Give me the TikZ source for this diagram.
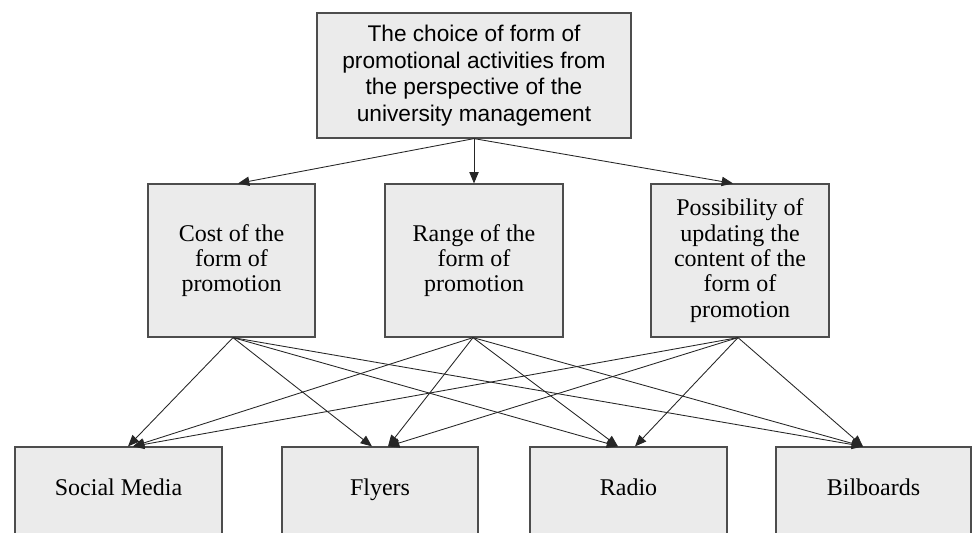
\documentclass[tikz,border=0pt]{standalone}
\usepackage{fontspec}
\setmainfont{Liberation Serif}
\newfontfamily\arialfont{Liberation Sans}
\usetikzlibrary{arrows.meta,calc}
\definecolor{boxfill}{HTML}{EBEBEB}
\definecolor{boxline}{HTML}{4D4D4D}
\definecolor{connline}{HTML}{262626}
\begin{document}
\begin{tikzpicture}[x=0.75pt,y=-0.75pt,
  box/.style={draw=boxline, fill=boxfill, line width=0.9pt, inner sep=0pt, align=center},
  topbox/.style={box, minimum width=235.5pt, minimum height=93.75pt, font=\arialfont\fontsize{17}{20}\selectfont},
  midbox/.style={box, minimum height=114.75pt, font=\fontsize{18}{19}\selectfont},
  botbox/.style={box, minimum height=84.75pt},
  bottext/.style={anchor=base, inner sep=0pt, font=\fontsize{18}{19}\selectfont},
  conn/.style={draw=connline, line width=0.65pt, -{Triangle[length=8.5pt,width=7pt]}}]
\useasboundingbox (0,0) rectangle (973,532);
\clip (0,0) rectangle (973,532);
% top
\node[topbox] (top) at (474,75.5) {The choice of form of\\promotional activities from\\the perspective of the\\university management};
% middle
\node[midbox, minimum width=125.25pt] (cost) at (231.5,260.5) {Cost of the\\form of\\promotion};
\node[midbox, minimum width=133.5pt] (range) at (474,260.5) {Range of the\\form of\\promotion};
\node[midbox, minimum width=133.5pt] (poss) at (740,260.5) {Possibility of\\updating the\\content of the\\form of\\promotion};
% bottom
\node[botbox, minimum width=155.25pt] (sm) at (118.5,503.5) {};
\node[botbox, minimum width=147pt] (fl) at (380,503.5) {};
\node[botbox, minimum width=147.75pt] (ra) at (628.5,503.5) {};
\node[botbox, minimum width=146.25pt] (bi) at (873.5,503.5) {};
\node[bottext] (smt) at (118.5,495) {Social Media};
\node[bottext] (flt) at (380,495) {Flyers};
\node[bottext] (rat) at (628.5,495) {Radio};
\node[bottext] (bit) at (873.5,495) {Bilboards};
% top to middle
\draw[conn] (top.south) -- ($(cost.north)+(6.5,0)$);
\draw[conn] (top.south) -- (range.north);
\draw[conn] (top.south) -- ($(poss.north)+(-7,0)$);
% middle to bottom
\coordinate (cs) at ($(cost.south)+(1.5,0)$);
\coordinate (rs) at ($(range.south)+(-1,0)$);
\coordinate (ps) at ($(poss.south)+(-2,0)$);
\draw[conn] (cs) -- ($(sm.north)+(9.5,0)$);
\draw[conn] (cs) -- ($(fl.north)+(-8,0)$);
\draw[conn] (cs) -- ($(ra.north)+(-10.5,0)$);
\draw[conn] (cs) -- ($(bi.north)+(-10.5,0)$);
\draw[conn] (rs) -- ($(sm.north)+(14.5,0)$);
\draw[conn] (rs) -- ($(fl.north)+(8,0)$);
\draw[conn] (rs) -- ($(ra.north)+(-10.5,0)$);
\draw[conn] (rs) -- ($(bi.north)+(-10.5,0)$);
\draw[conn] (ps) -- ($(sm.north)+(14.5,0)$);
\draw[conn] (ps) -- ($(fl.north)+(8,0)$);
\draw[conn] (ps) -- ($(ra.north)+(6.5,0)$);
\draw[conn] (ps) -- ($(bi.north)+(-10.5,0)$);
\end{tikzpicture}
\end{document}
